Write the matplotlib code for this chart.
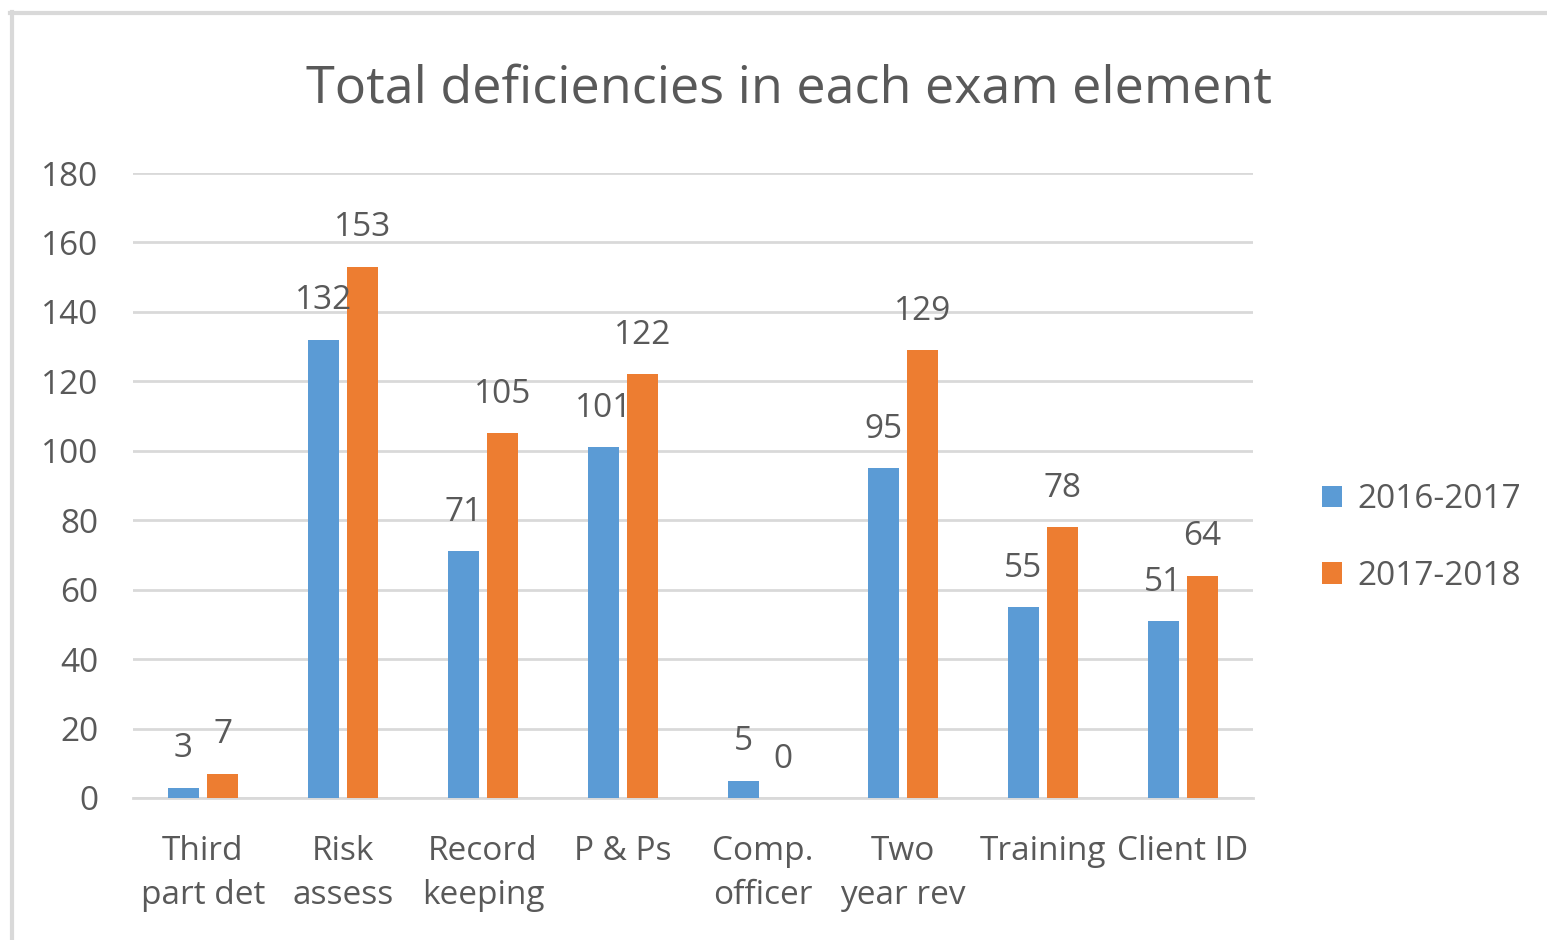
import matplotlib
matplotlib.use("Agg")
import matplotlib.pyplot as plt
import numpy as np
from matplotlib.lines import Line2D

categories = ["Third\npart det", "Risk\nassess", "Record\nkeeping", "P & Ps",
              "Comp.\nofficer", "Two\nyear rev", "Training", "Client ID"]
series_names = ["2016-2017", "2017-2018"]
values_2016 = [3, 132, 71, 101, 5, 95, 55, 51]
values_2017 = [7, 153, 105, 122, 0, 129, 78, 64]
yticks = [0, 20, 40, 60, 80, 100, 120, 140, 160, 180]
title = "Total deficiencies in each exam element"

blue = "#5B9BD5"
orange = "#ED7D31"
grid_c = "#D9D9D9"
text_c = "#595959"

plt.rcParams['font.family'] = ['Open Sans', 'DejaVu Sans']

fig = plt.figure(figsize=(15.47, 9.40), dpi=100)
ax = fig.add_axes([133/1547, 1-798/940, 1120/1547, 625/940])

x = np.arange(len(categories))
w = 0.22
off = 0.14
b1 = ax.bar(x - off, values_2016, w, color=blue, label=series_names[0], zorder=3)
b2 = ax.bar(x + off, values_2017, w, color=orange, label=series_names[1], zorder=3)

for bars, vals in ((b1, values_2016), (b2, values_2017)):
    for rect, v in zip(bars, vals):
        ax.annotate(str(v), (rect.get_x() + rect.get_width()/2, v),
                    xytext=(0, 28), textcoords="offset points",
                    ha="center", va="center", fontsize=24, color=text_c, zorder=4)

ax.set_xlim(-0.5, len(categories) - 0.5)
ax.set_ylim(0, 180)
ax.set_yticks(yticks)
ax.set_xticks(x)
ax.set_xticklabels(categories, linespacing=1.42)
ax.yaxis.grid(True, color=grid_c, linewidth=2, zorder=0)
ax.set_axisbelow(True)
for s in ["top", "right", "left"]:
    ax.spines[s].set_visible(False)
ax.spines["bottom"].set_color(grid_c)
ax.spines["bottom"].set_linewidth(2)
ax.tick_params(axis="both", length=0, labelsize=24, colors=text_c)
ax.tick_params(axis="y", pad=25)
ax.tick_params(axis="x", pad=27)

fig.text(789/1547, 1-89/940, title, ha="center", va="center", fontsize=37.5, color=text_c)

leg = ax.legend(loc="center left", bbox_to_anchor=(1292/1547, 1-538/940),
                bbox_transform=fig.transFigure, frameon=False, fontsize=24,
                handlelength=0.6, handleheight=0.6, labelspacing=1.3,
                handletextpad=0.45, labelcolor=text_c)

# outer frame lines (left and top)
fig.add_artist(Line2D([11.5/1547, 11.5/1547], [0, 1-12/940], transform=fig.transFigure,
                      color="#D9D9D9", linewidth=3))
fig.add_artist(Line2D([10/1547, 1], [1-13/940, 1-13/940], transform=fig.transFigure,
                      color="#D9D9D9", linewidth=3))

fig.savefig("out.png", dpi=100, facecolor="white")
